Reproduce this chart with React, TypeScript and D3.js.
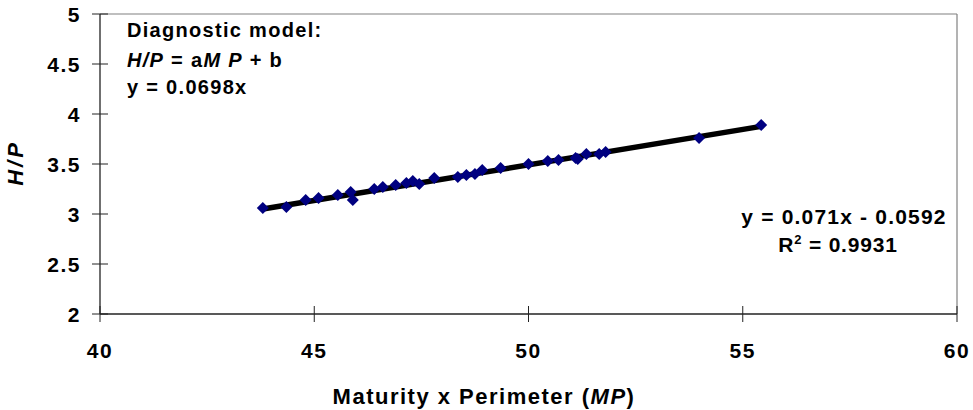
import React from "react";
import * as d3 from "d3";

const mpValues = [43.8, 44.35, 44.8, 45.1, 45.55, 45.85, 45.9, 46.4, 46.6, 46.9, 47.15, 47.3, 47.45, 47.8, 48.35, 48.55, 48.75, 48.92, 49.35, 50.0, 50.45, 50.7, 51.1, 51.15, 51.35, 51.65, 51.8, 53.98, 55.43];
const hpValues = [3.06, 3.07, 3.14, 3.16, 3.19, 3.22, 3.14, 3.25, 3.27, 3.29, 3.31, 3.33, 3.3, 3.36, 3.37, 3.39, 3.4, 3.44, 3.46, 3.5, 3.53, 3.54, 3.56, 3.55, 3.6, 3.6, 3.62, 3.76, 3.89];
const xTicks = [40, 45, 50, 55, 60];
const yTicks = [2, 2.5, 3, 3.5, 4, 4.5, 5];
const trendSlope = 0.071;
const trendIntercept = -0.0592;

const W = 973;
const H = 410;
const FONT = "Arial, 'Liberation Sans', Helvetica, sans-serif";

export default function App() {
  const x = d3.scaleLinear().domain([40, 60]).range([100, 957]);
  const y = d3.scaleLinear().domain([2, 5]).range([314, 14]);
  const pts = mpValues.map((v, i) => ({ x: v, y: hpValues[i] }));
  const [xmin, xmax] = d3.extent(mpValues) as [number, number];
  const trend = d3.line<number>().x((d) => x(d)).y((d) => y(trendSlope * d + trendIntercept));
  const r = 6;
  const diamondPath = `M0,${-r}L${r},0L0,${r}L${-r},0Z`;

  return (
    <div style={{ position: "fixed", left: 0, top: 0 }}>
      <svg width={W} height={H} style={{ display: "block", background: "#fff" }} fontFamily={FONT}>
        {/* plot border */}
        <line x1={x(40)} x2={x(60)} y1={y(5)} y2={y(5)} stroke="#808080" strokeWidth={1.2} />
        <line x1={x(60)} x2={x(60)} y1={y(5)} y2={y(2)} stroke="#808080" strokeWidth={1.2} />
        {/* axes */}
        <line x1={x(40)} x2={x(60)} y1={y(2)} y2={y(2)} stroke="#222" strokeWidth={1.3} />
        <line x1={x(40)} x2={x(40)} y1={y(5)} y2={y(2)} stroke="#222" strokeWidth={1.3} />
        {yTicks.map((t) => (
          <g key={"y" + t}>
            <line x1={x(40) - 8} x2={x(40) + 8} y1={y(t)} y2={y(t)} stroke="#222" strokeWidth={1} />
            <text x={81} y={y(t)} dy="0.36em" textAnchor="end" fontSize={21} fontWeight="bold" letterSpacing={1.5}>
              {d3.format("~g")(t)}
            </text>
          </g>
        ))}
        {xTicks.map((t) => (
          <g key={"x" + t}>
            <line x1={x(t)} x2={x(t)} y1={y(2) - 8} y2={y(2) + 8} stroke="#222" strokeWidth={1} />
            <text x={x(t)} y={358} textAnchor="middle" fontSize={21} fontWeight="bold" letterSpacing={1.5}>
              {t}
            </text>
          </g>
        ))}
        {/* trend line */}
        <path d={trend([xmin, xmax]) || ""} stroke="#000" strokeWidth={5.5} fill="none" />
        {/* points */}
        {pts.map((p, i) => (
          <path key={i} d={diamondPath} transform={`translate(${x(p.x)},${y(p.y)})`} fill="#000080" />
        ))}
        {/* annotations */}
        <text x={127} y={37} fontSize={20} fontWeight="bold" letterSpacing={1.3}>Diagnostic model:</text>
        <text x={127} y={67} fontSize={20} fontWeight="bold" letterSpacing={1.3}>
          <tspan fontStyle="italic">H/P</tspan>
          <tspan> = a</tspan>
          <tspan fontStyle="italic">M P</tspan>
          <tspan> + b</tspan>
        </text>
        <text x={127} y={94} fontSize={20} fontWeight="bold" letterSpacing={1.3}>y = 0.0698x</text>
        <text x={844} y={224} textAnchor="middle" fontSize={21} fontWeight="bold" letterSpacing={1.2}>y = 0.071x - 0.0592</text>
        <text x={838} y={252} textAnchor="middle" fontSize={21} fontWeight="bold" letterSpacing={0.8}>
          R<tspan fontSize={13} dy={-8}>2</tspan><tspan dy={8}> = 0.9931</tspan>
        </text>
        {/* axis titles */}
        <text x={484} y={404} textAnchor="middle" fontSize={22} fontWeight="bold" letterSpacing={1.5}>
          Maturity x Perimeter (<tspan fontStyle="italic">MP</tspan>)
        </text>
        <text transform="translate(23,163) rotate(-90)" textAnchor="middle" fontSize={22} fontWeight="bold" fontStyle="italic" letterSpacing={3}>
          H/P
        </text>
      </svg>
    </div>
  );
}
